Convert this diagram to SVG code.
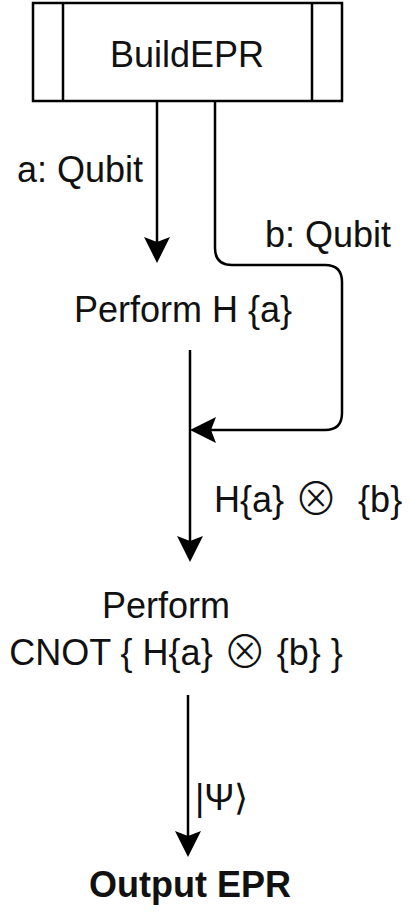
<svg xmlns="http://www.w3.org/2000/svg" width="409" height="922" viewBox="0 0 409 922">
<style>
.t{font-family:"Liberation Sans",Arial,sans-serif;font-size:36px;fill:#111;white-space:pre}
.b{font-weight:bold}
.o{font-family:"Noto Sans CJK JP","DejaVu Sans",sans-serif;font-weight:300;font-size:44px}
.ln{fill:none;stroke:#000;stroke-width:2.5}
</style>
<defs>
<marker id="ah" viewBox="0 0 26 26" refX="5" refY="13" markerWidth="26" markerHeight="26" markerUnits="userSpaceOnUse" orient="auto">
<path d="M0,0 L26,13 L0,26 L5,13 Z" fill="#000"/>
</marker>
</defs>
<rect width="409" height="922" fill="#fff"/>
<g id="connectors">
<path class="ln" d="M157,101 V242" marker-end="url(#ah)"/>
<path class="ln" d="M215,101 V248 Q215,265 232,265 H325 Q342,265 342,282 V413 Q342,430 325,430 H211" marker-end="url(#ah)"/>
<path class="ln" d="M190,350 V541" marker-end="url(#ah)"/>
<path class="ln" d="M188,695 V836" marker-end="url(#ah)"/>
<text class="t" x="214" y="512" xml:space="preserve">H{a} <tspan class="o" dy="3">⊗</tspan><tspan dy="-3">  {b}</tspan></text>
<text class="t" x="17" y="182">a: Qubit</text>
<text class="t" x="265" y="247">b: Qubit</text>
<text class="t" x="195" y="810">|Ψ⟩</text>
</g>
<g id="buildepr">
<rect x="33" y="3" width="309" height="98" fill="#fff" stroke="#000" stroke-width="2.5"/>
<line x1="63" y1="3" x2="63" y2="101" stroke="#000" stroke-width="2.5"/>
<line x1="312" y1="3" x2="312" y2="101" stroke="#000" stroke-width="2.5"/>
<text class="t" x="187" y="67" text-anchor="middle">BuildEPR</text>
</g>
<g id="performH">
<text class="t" x="183" y="322" text-anchor="middle">Perform H {a}</text>
</g>
<g id="performCNOT">
<text class="t" x="166" y="618" text-anchor="middle">Perform</text>
<text class="t" x="176" y="665" text-anchor="middle">CNOT { H{a} <tspan class="o" dy="3">⊗</tspan><tspan dy="-3"> {b} }</tspan></text>
</g>
<g id="output">
<text class="t b" x="190" y="897" text-anchor="middle">Output EPR</text>
</g>
</svg>
